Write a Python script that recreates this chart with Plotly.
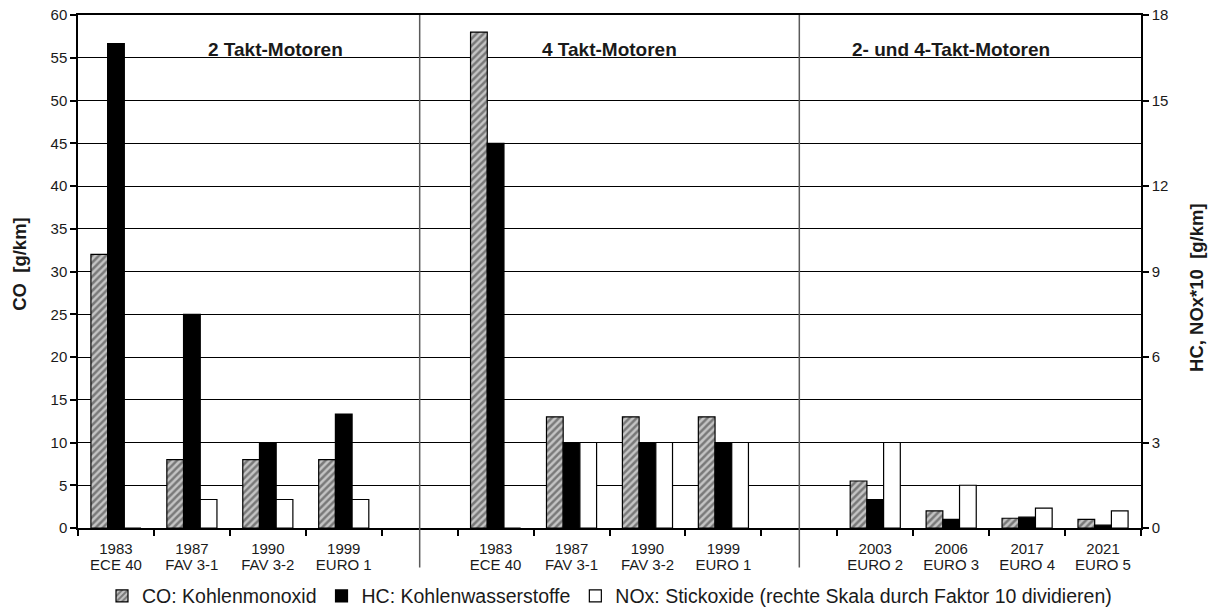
import plotly.graph_objects as go

# Emission limits for motorcycles, grouped by engine type
group_titles = ["2 Takt-Motoren", "4 Takt-Motoren", "2- und 4-Takt-Motoren"]
group_years = [
    ["1983", "1987", "1990", "1999"],
    ["1983", "1987", "1990", "1999"],
    ["2003", "2006", "2017", "2021"],
]
group_norms = [
    ["ECE 40", "FAV 3-1", "FAV 3-2", "EURO 1"],
    ["ECE 40", "FAV 3-1", "FAV 3-2", "EURO 1"],
    ["EURO 2", "EURO 3", "EURO 4", "EURO 5"],
]

# CO in g/km (left axis)
co_values = [32, 8, 8, 8,
             58, 13, 13, 13,
             5.5, 2.0, 1.14, 1.0]
# HC in g/km (right axis)
hc_values = [17, 7.5, 3, 4,
             13.5, 3, 3, 3,
             1.0, 0.3, 0.38, 0.1]
# NOx * 10 in g/km (right axis)
nox_values = [0, 1.0, 1.0, 1.0,
              0, 3, 3, 3,
              3, 1.5, 0.7, 0.6]

FONT = "Liberation Sans, Arial, sans-serif"
TXT = "#1a1a1a"

# slot positions: one empty slot between the engine groups
x_pos, year_text, norm_text, gap_slots = [], [], [], []
slot = 0
for gi, (years, norms) in enumerate(zip(group_years, group_norms)):
    for yr, nm in zip(years, norms):
        x_pos.append(slot)
        year_text.append(yr)
        norm_text.append(nm)
        slot += 1
    if gi < len(group_years) - 1:
        gap_slots.append(slot)
        slot += 1
n_slots = slot

bar_w = 0.22
fig = go.Figure()
fig.add_trace(go.Bar(
    x=x_pos, y=co_values, name="CO: Kohlenmonoxid", yaxis="y",
    width=bar_w, offset=-1.5 * bar_w,
    marker=dict(color="#c4c4c4",
                pattern=dict(shape="/", fgcolor="#2e2e2e", bgcolor="#c4c4c4",
                             size=5, solidity=0.5),
                line=dict(color="black", width=1.2)),
))
fig.add_trace(go.Bar(
    x=x_pos, y=hc_values, name="HC: Kohlenwasserstoffe", yaxis="y2",
    width=bar_w, offset=-0.5 * bar_w,
    marker=dict(color="black", line=dict(color="black", width=1.2)),
))
fig.add_trace(go.Bar(
    x=x_pos, y=nox_values, name="NOx: Stickoxide (rechte Skala durch Faktor 10 dividieren)",
    yaxis="y2", width=bar_w, offset=0.5 * bar_w,
    marker=dict(color="white", line=dict(color="black", width=1.2)),
))
# carrier for the second tick-label row (norm names)
fig.add_trace(go.Scatter(x=x_pos, y=[0] * len(x_pos), xaxis="x2", yaxis="y",
                         mode="markers", marker=dict(opacity=0), showlegend=False,
                         hoverinfo="skip"))

boundaries = [i - 0.5 for i in range(n_slots + 1)]
tick_font = dict(family=FONT, size=15, color=TXT)

fig.update_layout(
    width=1216, height=609,
    margin=dict(l=78, r=75, t=15, b=81),
    paper_bgcolor="white", plot_bgcolor="white",
    font=dict(family=FONT, size=15, color=TXT),
    barmode="overlay",
    showlegend=True,
    legend=dict(orientation="h", x=0.5, xanchor="center",
                yref="container", y=0.021, yanchor="middle",
                font=dict(family=FONT, size=19.5, color=TXT),
                itemwidth=30, tracegroupgap=0, bgcolor="rgba(0,0,0,0)"),
    xaxis=dict(
        range=[-0.5, n_slots - 0.5], automargin=False,
        tickmode="array", tickvals=x_pos, ticktext=year_text,
        ticks="", showgrid=False, zeroline=False, ticklabelstandoff=6,
        showline=True, linecolor="black", linewidth=1.5, mirror=True,
        tickfont=tick_font,
        minor=dict(tickmode="array", tickvals=boundaries, ticks="outside",
                   ticklen=6, tickwidth=1.5, tickcolor="black", showgrid=False),
    ),
    xaxis2=dict(
        matches="x", overlaying="x", side="bottom", automargin=False,
        tickmode="array", tickvals=x_pos, ticktext=norm_text,
        ticks="", showgrid=False, zeroline=False, showline=False,
        ticklabelstandoff=26, tickfont=tick_font,
    ),
    yaxis=dict(
        range=[0, 60], dtick=5, tick0=0, automargin=False,
        showgrid=True, gridcolor="black", gridwidth=1.3,
        zeroline=False, showline=True, linecolor="black", linewidth=1.5,
        ticks="outside", ticklen=6, tickwidth=1.5, tickcolor="black",
        tickfont=tick_font,
    ),
    yaxis2=dict(
        range=[0, 18], dtick=3, tick0=0, overlaying="y", side="right", automargin=False,
        showgrid=False, zeroline=False, showline=True, linecolor="black", linewidth=1.5,
        ticks="outside", ticklen=6, tickwidth=1.5, tickcolor="black",
        tickfont=tick_font,
    ),
)

# dividers between the engine groups
for g in gap_slots:
    fig.add_shape(type="line", xref="x", yref="paper", x0=g, x1=g, y0=-0.077, y1=1,
                  line=dict(color="#5a5a5a", width=1.5))

# group headings
for title, cx in zip(group_titles, [2.1, 6.5, 11.0]):
    fig.add_annotation(x=cx, y=0.958, xref="x", yref="paper", text=f"<b>{title}</b>",
                       showarrow=False, font=dict(family=FONT, size=19, color=TXT))

# axis titles
fig.add_annotation(x=-0.0546, y=0.515, xref="paper", yref="paper", text="<b>CO  [g/km]</b>",
                   xanchor="center", yanchor="middle",
                   textangle=-90, showarrow=False, font=dict(family=FONT, size=18.5, color=TXT))
fig.add_annotation(x=1.0527, y=0.468, xref="paper", yref="paper",
                   text="<b>HC, NOx*10  [g/km]</b>", xanchor="center", yanchor="middle",
                   textangle=-90, showarrow=False, font=dict(family=FONT, size=18.5, color=TXT))

fig.write_html("out.html")
